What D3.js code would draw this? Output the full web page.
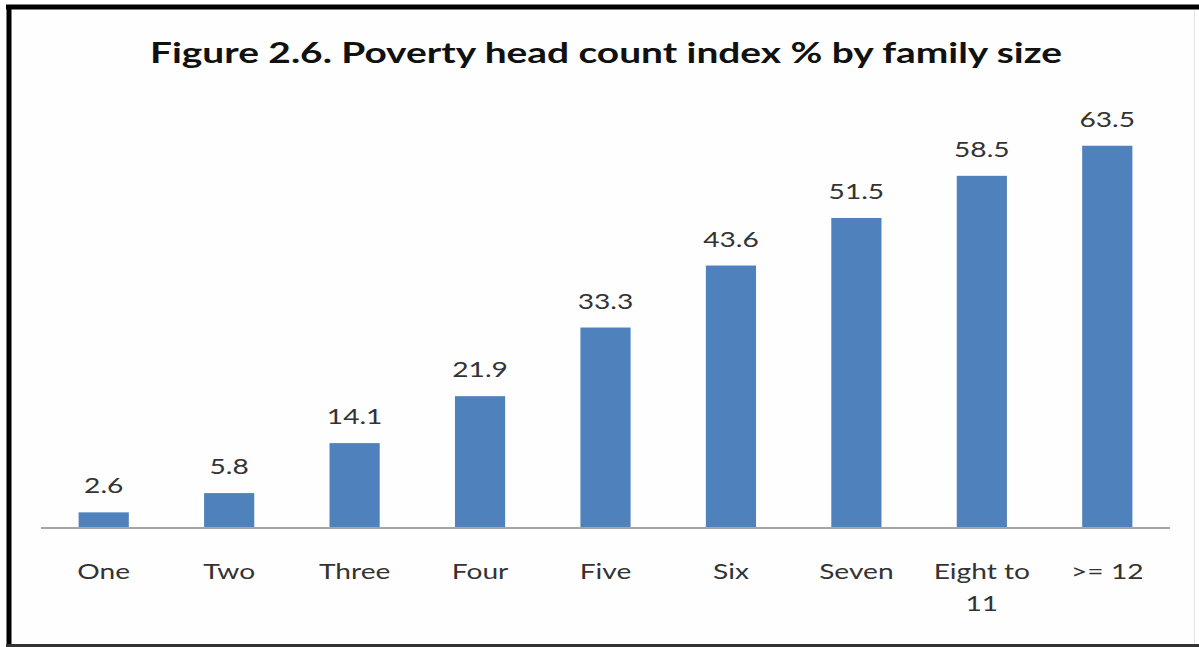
<!DOCTYPE html>
<html>
<head>
<meta charset="utf-8">
<script src="https://cdn.jsdelivr.net/npm/d3@7"></script>
<style>
  html, body { margin: 0; padding: 0; background: #fff; }
  svg { display: block; }
</style>
</head>
<body>
<svg id="chart" width="1199" height="647"></svg>
<script>
// Poverty head count index (%) by family size
const categories = ["One", "Two", "Three", "Four", "Five", "Six", "Seven", "Eight to 11", ">= 12"];
const povertyIndex = [2.6, 5.8, 14.1, 21.9, 33.3, 43.6, 51.5, 58.5, 63.5];
const valueLabels = ["2.6", "5.8", "14.1", "21.9", "33.3", "43.6", "51.5", "58.5", "63.5"];
const titleText = "Figure 2.6. Poverty head count index % by family size";

const W = 1199, H = 647;
const svg = d3.select("#chart");
const font = "Lato, 'Open Sans', sans-serif";
const stretch = 1.34; // text is drawn horizontally widened

// frame
svg.append("rect").attr("x", 0).attr("y", 0).attr("width", W).attr("height", H).attr("fill", "#fff");
svg.append("rect").attr("x", 9).attr("y", 7).attr("width", 1185).attr("height", 638)
  .attr("fill", "#fefefe").attr("stroke", "none");
// heavy top and left edges, lighter bottom, faint right
svg.append("line").attr("x1", 6).attr("x2", W).attr("y1", 7).attr("y2", 7)
  .attr("stroke", "#000").attr("stroke-width", 5);
svg.append("line").attr("x1", 9).attr("x2", 9).attr("y1", 5).attr("y2", H)
  .attr("stroke", "#000").attr("stroke-width", 5);
svg.append("line").attr("x1", 6).attr("x2", W).attr("y1", 645.5).attr("y2", 645.5)
  .attr("stroke", "#333").attr("stroke-width", 3);
svg.append("line").attr("x1", 1194.5).attr("x2", 1194.5).attr("y1", 10).attr("y2", 644)
  .attr("stroke", "#e4e4e4").attr("stroke-width", 1);

const margin = { left: 41, right: 1170, base: 528 };

const x = d3.scaleBand()
  .domain(categories)
  .range([margin.left, margin.right])
  .paddingInner(0.6)
  .paddingOuter(0.3);

const y = d3.scaleLinear()
  .domain([0, 70])
  .range([margin.base, margin.base - 421.4]);

// centred, widened text at (cx, baseline)
function wideText(parent, cx, by, str, size, weight, color) {
  return parent.append("text")
    .attr("transform", `translate(${cx},${by}) scale(${stretch},1)`)
    .attr("text-anchor", "middle")
    .attr("font-family", font)
    .attr("font-weight", weight)
    .attr("font-size", size)
    .attr("fill", color)
    .text(str);
}

// title
wideText(svg, 606, 63, titleText, 29, "bold", "#111");

const data = categories.map((c, i) => ({ c, v: povertyIndex[i], label: valueLabels[i] }));

// bars
svg.append("g").selectAll("rect")
  .data(data)
  .join("rect")
  .attr("x", d => x(d.c))
  .attr("y", d => y(d.v))
  .attr("width", x.bandwidth())
  .attr("height", d => y(0) - y(d.v))
  .attr("fill", "#4F81BD");

// value labels
const gl = svg.append("g");
data.forEach(d => {
  wideText(gl, x(d.c) + x.bandwidth() / 2, y(d.v) - 19, d.label, 21, "normal", "#333");
});

// category axis
const axis = d3.axisBottom(x).tickSize(0).tickPadding(0);
const gx = svg.append("g").attr("transform", `translate(0,${margin.base})`).call(axis);
gx.select(".domain").attr("stroke", "#a6a6a6").attr("stroke-width", 2)
  .attr("d", `M${margin.left},0H${margin.right}`);
gx.selectAll(".tick text").remove();

// category labels; the long one wraps onto a second line
gx.selectAll(".tick").each(function(d) {
  const g = d3.select(this);
  const lines = d === "Eight to 11" ? ["Eight to", "11"] : [d];
  lines.forEach((ln, i) => {
    wideText(g, 0, 51 + i * 32, ln, 21, "normal", "#333");
  });
});
</script>
</body>
</html>
